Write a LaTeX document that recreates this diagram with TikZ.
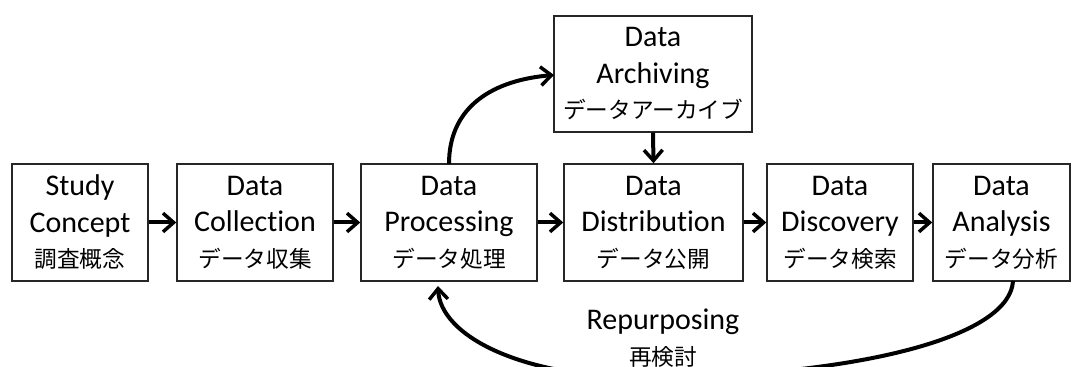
\documentclass[tikz,border=0pt]{standalone}
\usepackage{fontspec}
\setmainfont{Carlito}[Ligatures=NoCommon]
\newfontfamily\jpfont{Noto Sans CJK JP}
\usetikzlibrary{arrows.meta}
\newcommand{\en}{\fontsize{22.5}{27.5}\selectfont}
\newcommand{\jp}[1]{{\jpfont\fontsize{17}{20}\selectfont #1}}
\tikzset{
  box/.style={draw=black!85, line width=1.1pt, rectangle, inner sep=0pt,
    minimum height=87.75pt, align=center, font=\en},
  flow/.style={line width=3pt, -{Straight Barb[length=8pt,width=14pt,line width=2.6pt]}},
}
\begin{document}
\begin{tikzpicture}[x=0.75pt,y=-0.75pt]
\useasboundingbox (0,0) rectangle (1075,367);
\node[box, minimum width=102pt] (sc) at (80,222.5) {Study\\Concept\\[-1pt]\jp{調査概念}};
\node[box, minimum width=117pt] (dc) at (255,222.5) {Data\\Collection\\[-1pt]\jp{データ収集}};
\node[box, minimum width=132pt] (dp) at (449,222.5) {Data\\Processing\\[-1pt]\jp{データ処理}};
\node[box, minimum width=134.25pt] (dd) at (653.5,222.5) {Data\\Distribution\\[-1pt]\jp{データ公開}};
\node[box, minimum width=148.5pt, minimum height=87pt] (da) at (653,74) {Data\\Archiving\\[-1pt]\jp{データアーカイブ}};
\node[box, minimum width=109.5pt] (ddisc) at (840,222.5) {Data\\Discovery\\[-1pt]\jp{データ検索}};
\node[box, minimum width=102.75pt] (dan) at (1001.5,222.5) {Data\\Analysis\\[-1pt]\jp{データ分析}};
\node[align=center, font=\en] (rp) at (663,338) {Repurposing\\[-1pt]\jp{再検討}};
\coordinate (anout) at (1013,281);
\coordinate (dpin) at (438,286);
\coordinate (dpout) at (449,164);
\coordinate (dain) at (554,75);
\coordinate (bot) at (660,378);
\draw[flow] (da.south) -- (dd.north);
\draw[flow] (sc.east) -- (dc.west);
\draw[flow] (dc.east) -- (dp.west);
\draw[flow] (dp.east) -- (dd.west);
\draw[flow] (dd.east) -- (ddisc.west);
\draw[flow] (ddisc.east) -- (dan.west);
\draw[flow] (dpout) .. controls (449,105) and (495,80) .. (dain);
\draw[flow] (anout) .. controls (1010,335) and (870,374) .. (bot) .. controls (520,380) and (440,335) .. (dpin);
\end{tikzpicture}
\end{document}
